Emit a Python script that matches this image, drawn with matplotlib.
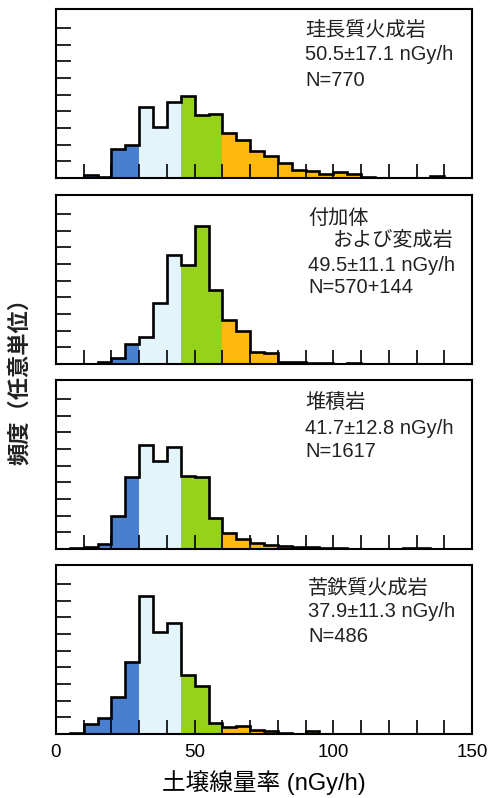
import matplotlib
matplotlib.use('Agg')
import matplotlib.pyplot as plt
import numpy as np

plt.rcParams['font.family'] = ['Liberation Sans', 'Noto Sans CJK JP']

# ビン (5 nGy/h 幅)
edges = np.arange(0, 155, 5)

# 各岩種の頻度 (任意単位)
felsic = [0, 0, 0.16, 0.04, 1.76, 1.96, 4.24, 3.04, 4.54, 4.9, 3.76, 3.84, 2.7, 2.3, 1.6,
          1.3, 0.9, 0.5, 0.4, 0.26, 0.34, 0.26, 0.04, 0, 0, 0, 0, 0.12, 0, 0]
accretion = [0, 0, 0, 0.14, 0.34, 1.18, 1.6, 3.64, 6.56, 5.96, 8.3, 4.46, 2.64, 1.96, 0.7,
             0.64, 0.14, 0.1, 0.04, 0.04, 0, 0.06, 0, 0, 0, 0, 0, 0, 0, 0]
sediment = [0, 0.06, 0.1, 0.3, 1.96, 4.34, 6.26, 5.26, 6.14, 4.4, 4.34, 1.86, 0.96, 0.6, 0.34,
            0.26, 0.2, 0.14, 0.1, 0.06, 0.04, 0.02, 0.02, 0.02, 0, 0.04, 0.04, 0.02, 0, 0]
mafic = [0, 0.06, 0.6, 0.94, 2.2, 4.3, 8.26, 6.14, 6.66, 3.54, 2.86, 0.66, 0.4, 0.5, 0.26,
         0.16, 0.04, 0.02, 0.16, 0, 0, 0, 0, 0, 0, 0, 0, 0, 0, 0]

labels = [
    [('珪長質火成岩', 0.599, 0.87), ('50.5±17.1 nGy/h', 0.599, 0.73), ('N=770', 0.599, 0.58)],
    [('付加体', 0.607, 0.86), ('および変成岩', 0.666, 0.732), ('49.5±11.1 nGy/h', 0.606, 0.58),
     ('N=570+144', 0.606, 0.455)],
    [('堆積岩', 0.599, 0.862), ('41.7±12.8 nGy/h', 0.599, 0.714), ('N=1617', 0.599, 0.576)],
    [('苦鉄質火成岩', 0.606, 0.862), ('37.9±11.3 nGy/h', 0.606, 0.724), ('N=486', 0.606, 0.576)],
]
data = [felsic, accretion, sediment, mafic]


def bin_color(x):
    if x < 30:
        return '#4a7fcf'
    if x < 45:
        return '#e3f4fa'
    if x < 60:
        return '#97d21a'
    return '#ffb80c'


fig = plt.figure(figsize=(4.92, 7.98), dpi=100)
bottoms = [0.7769, 0.5439, 0.312, 0.0802]

for i, (vals, txt) in enumerate(zip(data, labels)):
    ax = fig.add_axes([0.1138, bottoms[i], 0.8455, 0.2118])
    cols = [bin_color(e) for e in edges[:-1]]
    ax.bar(edges[:-1], vals, width=5, align='edge', color=cols, linewidth=0)
    ax.stairs(vals, edges, color='black', linewidth=1.9)
    ax.set_xlim(0, 150)
    ax.set_ylim(0, 10.14)
    ax.set_xticks(range(0, 151, 10))
    ax.set_yticks(range(1, 10))
    ax.set_yticklabels([])
    ax.tick_params(axis='x', direction='in', length=10, width=1.2, pad=7, labelsize=13.5)
    ax.tick_params(axis='y', direction='in', length=11, width=1.2)
    if i == 3:
        ax.set_xticklabels([str(v) if v % 50 == 0 else '' for v in range(0, 151, 10)])
        ax.set_xlabel('土壌線量率 (nGy/h)', fontsize=17, labelpad=7)
    else:
        ax.set_xticklabels([])
    for sp in ax.spines.values():
        sp.set_linewidth(1.5)
    for s, x, y in txt:
        ax.text(x, y, s, transform=ax.transAxes, ha='left', va='center', fontsize=14.5, color='#222222')

fig.text(0.04, 0.529, '頻度（任意単位）', rotation=90, ha='center', va='center',
         fontsize=16, fontweight='bold', color='#222222')

fig.savefig('out.png', dpi=100)
